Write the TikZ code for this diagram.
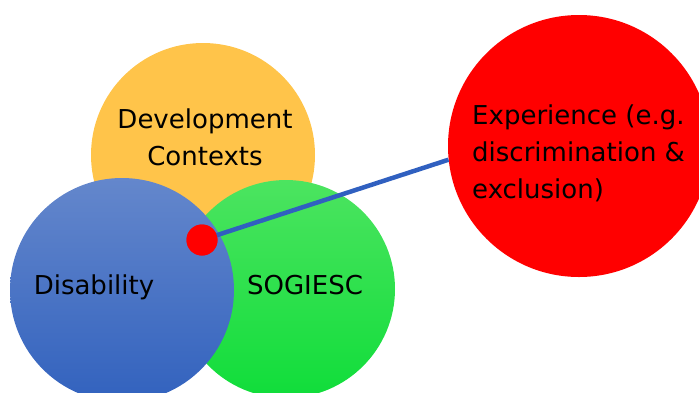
\documentclass[tikz,border=0pt]{standalone}
\usepackage{fontspec}
\setmainfont{DejaVu Sans}
\definecolor{ctxyellow}{HTML}{FFC44A}
\definecolor{disTop}{HTML}{6487CC}
\definecolor{disBot}{HTML}{3262BE}
\definecolor{sogTop}{HTML}{4CE460}
\definecolor{sogBot}{HTML}{10DD3A}
\definecolor{linkblue}{HTML}{3060C0}
\begin{document}
\begin{tikzpicture}[x=1pt,y=-1pt,
  disc/.style={circle,inner sep=0pt,draw=none},
  lbl/.style={font=\fontsize{26}{37}\selectfont,text=black,inner sep=0pt}]
\useasboundingbox (0,0) rectangle (699,392);
% three overlapping factors
\node[disc,fill=ctxyellow,minimum size=224pt] (ctx) at (203,155) {};
\node[disc,top color=sogTop,bottom color=sogBot,minimum size=218pt] (sog) at (286,289) {};
\node[disc,top color=disTop,bottom color=disBot,minimum size=224pt] (dis) at (122,290) {};
% outcome circle
\node[disc,fill=red,minimum size=262pt] (exp) at (579,146) {};
% intersection point and link
\node[disc,fill=red,minimum size=31pt] (dot) at (202,240) {};
\draw[linkblue,line width=4.5pt] (dot.center) -- (exp.186);
\node[disc,fill=red,minimum size=31pt] at (dot) {};
% labels (base anchor sits on the last line)
\node[lbl,align=center,anchor=base] (ctxl) at (205,165) {Development\\Contexts};
\node[lbl,anchor=base] (disl) at (94,294) {Disability};
\node[lbl,anchor=base] (sogl) at (305,294) {SOGIESC};
\node[lbl,align=left,anchor=base west] (expl) at (472,198) {Experience (e.g.\\discrimination \&\\exclusion)};
\end{tikzpicture}
\end{document}
